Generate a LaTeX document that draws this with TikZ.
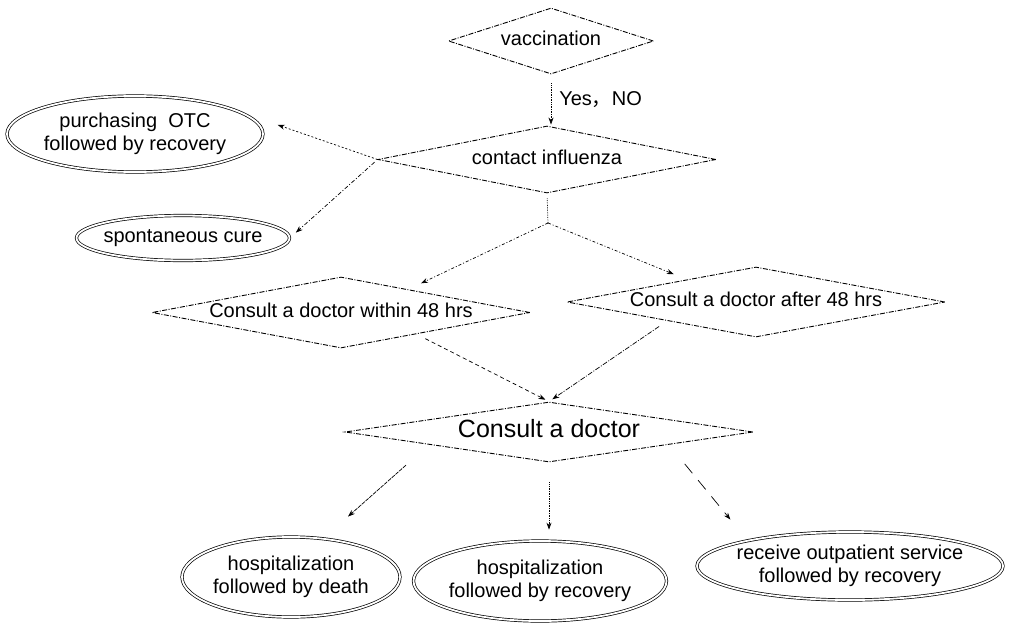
\documentclass[tikz,border=0pt]{standalone}
\usepackage{fontspec}
\setmainfont{Liberation Sans}
\newfontfamily\cjkfont{Noto Sans CJK SC}
\usepackage{tikz}
\usetikzlibrary{arrows.meta, positioning, shapes.geometric}

% text that does not change the size of its shape
\newcommand{\ctext}[1]{\makebox[0pt]{\begin{tabular}{@{}c@{}}#1\end{tabular}}}

\begin{document}
\begin{tikzpicture}[
  x=1pt, y=-1pt,
  font=\fontsize{20}{23}\selectfont,
  decision/.style={diamond, draw, line width=0.9pt, inner sep=0pt,
                   dash pattern=on 5pt off 1.5pt on 1pt off 1.5pt},
  outcome/.style={ellipse, draw, double, line width=0.7pt,
                  double distance=1.8pt, inner sep=0pt},
  arr/.style={-{Stealth[length=7pt, width=5pt]}, line width=0.7pt},
]
\useasboundingbox (0,0) rectangle (1009,624);

% Decisions
\node[decision, minimum width=205pt, minimum height=66pt] (vac) at (551,41) {\ctext{vaccination}};
\node[decision, minimum width=338pt, minimum height=67pt] (inf) at (547,159.5) {\ctext{contact influenza}};
\node[decision, minimum width=378pt, minimum height=71pt] (within) at (341,312.5) {\ctext{Consult a doctor within 48 hrs}};
\node[decision, minimum width=378pt, minimum height=70pt] (after) at (756,302) {\ctext{Consult a doctor after 48 hrs}};
\node[decision, minimum width=408pt, minimum height=60pt, font=\fontsize{25}{29}\selectfont] (cad) at (549,432) {\ctext{Consult a doctor}};
\coordinate (split) at (548,223);

% Outcomes
\node[outcome, minimum width=256pt, minimum height=76pt] (otc) at (135,134) {\ctext{purchasing\ \ OTC\\followed by recovery}};
\node[outcome, minimum width=213pt, minimum height=45pt] (spont) at (183,238) {\ctext{spontaneous cure}};
\node[outcome, minimum width=218pt, minimum height=80pt] (death) at (291,577) {\ctext{hospitalization\\followed by death}};
\node[outcome, minimum width=253pt, minimum height=80pt] (recov) at (540,581) {\ctext{hospitalization\\followed by recovery}};
\node[outcome, minimum width=306pt, minimum height=68pt] (outp) at (850,566) {\ctext{receive outpatient service\\followed by recovery}};

% vaccination -> contact influenza
\draw[arr, densely dotted, shorten <=9pt, shorten >=1pt] (vac.south) -- (vac.south |- inf.north)
  node[midway, right, inner sep=8pt] {Yes{\cjkfont ，}NO};

% contact influenza -> self care
\draw[arr, dash pattern=on 2pt off 2pt, shorten >=55pt] (inf.west) -- (otc.north east);
\draw[arr, dash pattern=on 4pt off 2pt on 1pt off 2pt, shorten <=4pt, shorten >=8pt] (inf.west) -- (spont.east);

% contact influenza -> doctor
\draw[line width=0.7pt, densely dotted, shorten <=5pt] (inf.south) -- (split);
\draw[arr, dash pattern=on 3pt off 2pt on 1pt off 2pt, shorten >=14pt] (split) -- (within.19);
\draw[arr, dash pattern=on 3pt off 2pt on 1pt off 2pt, shorten >=14pt] (split) -- (after.162);
\draw[arr, dash pattern=on 4pt off 3pt, shorten <=10pt, shorten >=4pt] (within.-16) -- (cad.north);
\draw[arr, dash pattern=on 5pt off 1.5pt on 1pt off 1.5pt, shorten <=10pt, shorten >=4pt] (after.192) -- (cad.north);

% consult a doctor -> outcomes
\draw[arr, dash pattern=on 4pt off 1pt, shorten <=31pt, shorten >=33pt] (cad.186) -- (death.50);
\draw[arr, densely dotted, shorten <=20pt, shorten >=11pt] (cad.south) -- (cad.south |- recov.north);
\draw[arr, dash pattern=on 12pt off 9pt, shorten <=25pt, shorten >=27pt] (cad.-6) -- (outp.166);

\end{tikzpicture}
\end{document}
